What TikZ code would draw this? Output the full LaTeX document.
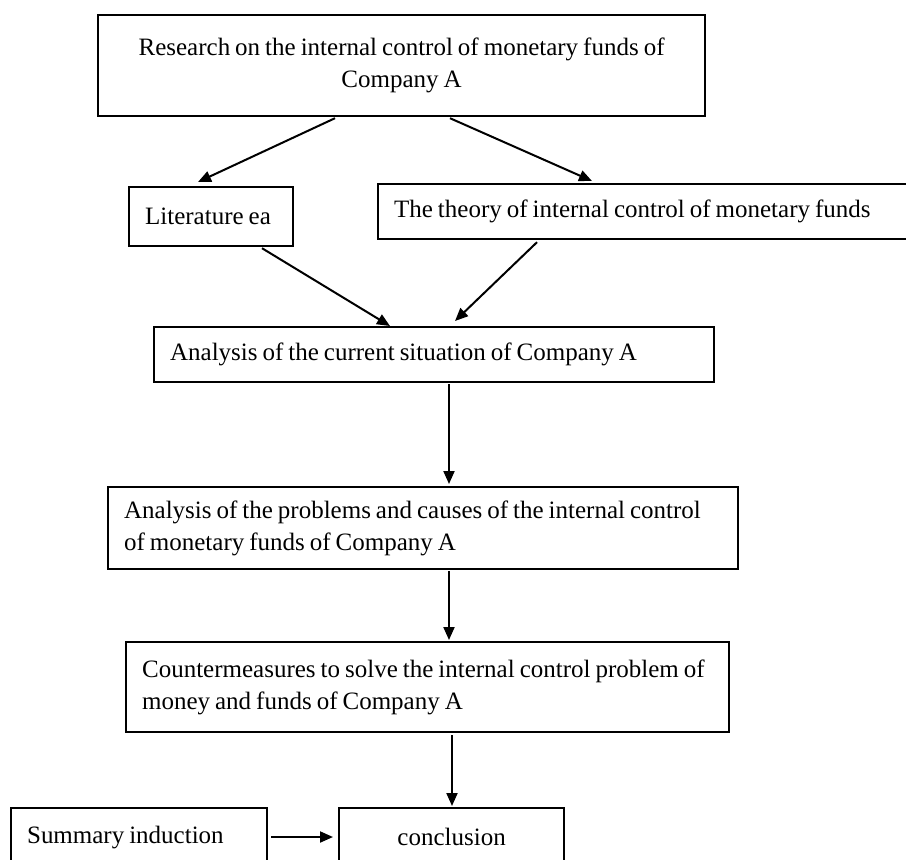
\documentclass[tikz,border=0pt]{standalone}
\usepackage{fontspec}
\setmainfont{Liberation Serif}
\usetikzlibrary{arrows.meta,calc}
\newcommand{\boxfont}{\fontsize{25}{32}\selectfont\spaceskip=0.2em plus 0.05em minus 0.05em\relax}
\begin{document}
\begin{tikzpicture}[x=1pt,y=-1pt,
  box/.style={draw, line width=2.2pt, anchor=north west, inner xsep=16pt, inner ysep=0pt,
    font=\boxfont, align=flush left},
  arr/.style={line width=2pt, -{Triangle[length=13pt,width=11pt]}}]
\path[use as bounding box, clip] (0,0) rectangle (906,860);
\fill[white] (0,0) rectangle (906,860);

\node[box, minimum width=607pt, minimum height=101pt, align=flush center, text width=575pt] (top) at (97,14)
  {Research on the internal control of monetary funds of\\Company A};
\node[box, minimum width=164pt, minimum height=59pt, text width=132pt] (lit) at (128,186)
  {Literature ea};
\node[box, minimum width=540pt, minimum height=55pt, text width=508pt] (theory) at (377,183)
  {The theory of internal control of monetary funds};
\node[box, minimum width=560pt, minimum height=55pt, text width=528pt] (anal) at (153,326)
  {Analysis of the current situation of Company A};
\node[box, minimum width=630pt, minimum height=82pt, text width=598pt] (prob) at (107,486)
  {Analysis of the problems and causes of the internal control\\of monetary funds of Company A};
\node[box, minimum width=603pt, minimum height=90pt, text width=571pt] (counter) at (125,641)
  {Countermeasures to solve the internal control problem of\\money and funds of Company A};
\node[box, minimum width=256pt, minimum height=58pt, text width=224pt] (summary) at (10,807)
  {Summary induction};
\node[box, minimum width=225pt, minimum height=58pt, align=flush center, text width=193pt] (concl) at (338,807)
  {conclusion};

\draw[arr] ($(top.south west)+(238,1)$) -- ($(lit.north west)+(70,-4)$);
\draw[arr] ($(top.south west)+(353,1)$) -- ($(theory.north west)+(215,-2)$);
\draw[arr] ($(lit.south west)+(134,1)$) -- ($(anal.north west)+(237,0)$);
\draw[arr] ($(theory.south west)+(160,2)$) -- ($(anal.north west)+(302,-5)$);
\draw[arr] ($(anal.south west)+(296,1)$) -- ($(prob.north west)+(342,-2)$);
\draw[arr] ($(prob.south west)+(342,1)$) -- ($(counter.north west)+(324,-1)$);
\draw[arr] ($(counter.south west)+(327,2)$) -- ($(concl.north west)+(114,-1)$);
\draw[arr] ($(summary.north east)+(3,30)$) -- ($(concl.north west)+(-5,30)$);
\end{tikzpicture}
\end{document}
